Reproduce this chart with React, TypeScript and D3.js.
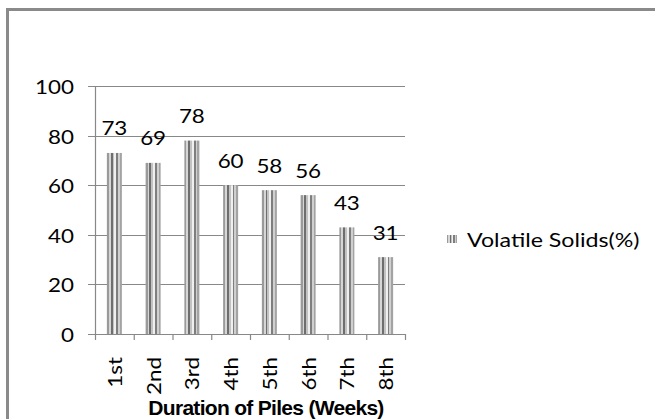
import React from "react";
import * as d3 from "d3";

const categories = ["1st", "2nd", "3rd", "4th", "5th", "6th", "7th", "8th"];
const values = [73, 69, 78, 60, 58, 56, 43, 31];
const yTicks = [0, 20, 40, 60, 80, 100];
const seriesName = "Volatile Solids(%)";
const axisTitle = "Duration of Piles (Weeks)";

const stripeColors = ["#9a9a9a", "#d6d6d6", "#6e6e6e", "#c2c2c2", "#efefef", "#7e7e7e", "#cfcfcf", "#a3a3a3"];

export default function App() {
  const W = 655, H = 419;
  const left = 95, right = 405, top = 86, bottom = 334;
  const band = d3.scaleBand<string>().domain(categories).range([left, right]);
  const y = d3.scaleLinear().domain([0, 100]).range([bottom, top]);
  const grid = "#888888";
  const calibri = "Lato, 'Open Sans', sans-serif";
  const n = stripeColors.length;
  const stops: JSX.Element[] = [];
  stripeColors.forEach((c, i) => {
    stops.push(<stop key={"a" + i} offset={i / n} stopColor={c} />);
    stops.push(<stop key={"b" + i} offset={(i + 1) / n} stopColor={c} />);
  });
  const bw = 15;
  return (
    <svg width={W} height={H} style={{ position: "absolute", left: 0, top: 0, background: "#fff" }}>
      <defs>
        <linearGradient id="stripes" x1="0" y1="0" x2="1" y2="0">{stops}</linearGradient>
      </defs>
      <rect x={0} y={0} width={W} height={H} fill="#fff" />
      <rect x={7.5} y={9.5} width={W + 20} height={H + 20} fill="none" stroke="#8a8a8a" strokeWidth={3} />
      {yTicks.map((t) => (
        <g key={t}>
          <line x1={88} x2={right} y1={Math.round(y(t)) + 0.5} y2={Math.round(y(t)) + 0.5} stroke={grid} strokeWidth={1.2} />
          <text transform={`translate(74,${y(t) + 8}) scale(1.12,1)`} textAnchor="end" fontFamily={calibri} fontSize={20} fill="#000">{t}</text>
        </g>
      ))}
      <line x1={left + 0.5} x2={left + 0.5} y1={y(100)} y2={bottom + 6} stroke={grid} strokeWidth={1.2} />
      {categories.map((c) => (
        <line key={"tk" + c} x1={band(c)! + band.bandwidth() + 0.5} x2={band(c)! + band.bandwidth() + 0.5} y1={bottom} y2={bottom + 6} stroke={grid} strokeWidth={1.2} />
      ))}
      {categories.map((c, i) => {
        const cx = band(c)! + band.bandwidth() / 2;
        return (
          <g key={c}>
            <rect x={cx - bw / 2} y={y(values[i])} width={bw} height={bottom - y(values[i])} fill="url(#stripes)" />
            <text transform={`translate(${cx},${y(values[i]) - 17.5}) scale(1.12,1)`} textAnchor="middle" fontFamily={calibri} fontSize={20} fill="#000">{values[i]}</text>
            <text transform={`translate(${cx + 7.5},357) rotate(-90) scale(1.12,1)`} textAnchor="end" fontFamily={calibri} fontSize={20} fill="#000">{c}</text>
          </g>
        );
      })}
      <text x={266} y={415} textAnchor="middle" fontFamily="'Liberation Sans', Arial, sans-serif" fontWeight="bold" fontSize={21} letterSpacing={-0.7} fill="#000">{axisTitle}</text>
      <rect x={447} y={235} width={10} height={8} fill="url(#stripes)" />
      <text transform={`translate(467,247) scale(1.16,1)`} fontFamily={calibri} fontSize={20} fill="#000">{seriesName}</text>
    </svg>
  );
}
